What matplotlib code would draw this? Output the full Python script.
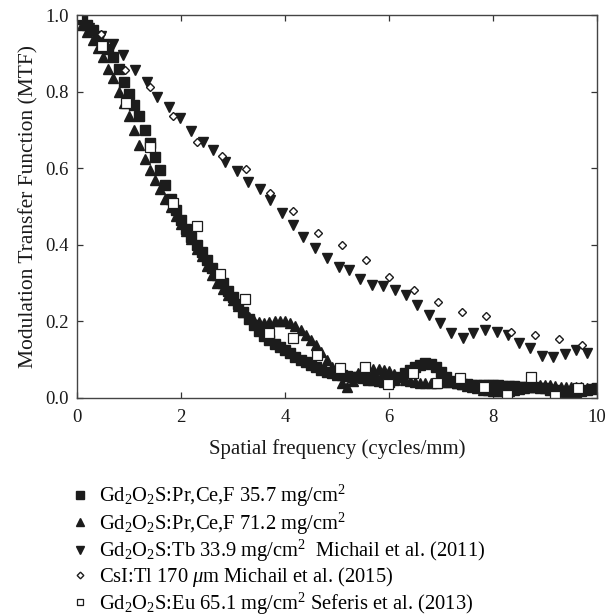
import matplotlib
matplotlib.use("Agg")
import matplotlib.pyplot as plt

# Spatial frequency grid of the two Pr,Ce,F screens (cycles/mm)
freq_prcef = [0.0, 0.1, 0.2, 0.3, 0.4, 0.5, 0.6, 0.7, 0.8, 0.9,
              1.0, 1.1, 1.2, 1.3, 1.4, 1.5, 1.6, 1.7, 1.8, 1.9,
              2.0, 2.1, 2.2, 2.3, 2.4, 2.5, 2.6, 2.7, 2.8, 2.9,
              3.0, 3.1, 3.2, 3.3, 3.4, 3.5, 3.6, 3.7, 3.8, 3.9,
              4.0, 4.1, 4.2, 4.3, 4.4, 4.5, 4.6, 4.7, 4.8, 4.9,
              5.0, 5.1, 5.2, 5.3, 5.4, 5.5, 5.6, 5.7, 5.8, 5.9,
              6.0, 6.1, 6.2, 6.3, 6.4, 6.5, 6.6, 6.7, 6.8, 6.9,
              7.0, 7.1, 7.2, 7.3, 7.4, 7.5, 7.6, 7.7, 7.8, 7.9,
              8.0, 8.1, 8.2, 8.3, 8.4, 8.5, 8.6, 8.7, 8.8, 8.9,
              9.0, 9.1, 9.2, 9.3, 9.4, 9.5, 9.6, 9.7, 9.8, 9.9, 10.0]

mtf_prcef_357 = [1.0, 0.99, 0.975, 0.96, 0.94, 0.925, 0.91, 0.89, 0.86, 0.825,
                 0.795, 0.765, 0.735, 0.70, 0.665, 0.63, 0.595, 0.555, 0.52, 0.49,
                 0.465, 0.44, 0.42, 0.40, 0.38, 0.36, 0.34, 0.32, 0.30, 0.28,
                 0.265, 0.245, 0.225, 0.205, 0.19, 0.175, 0.162, 0.152, 0.142, 0.132,
                 0.125, 0.117, 0.108, 0.10, 0.093, 0.087, 0.08, 0.074, 0.069, 0.066,
                 0.063, 0.06, 0.058, 0.056, 0.054, 0.051, 0.048, 0.046, 0.044, 0.042,
                 0.042, 0.047, 0.055, 0.065, 0.073, 0.08, 0.087, 0.092, 0.09, 0.08,
                 0.068, 0.055, 0.045, 0.04, 0.037, 0.036, 0.035, 0.035, 0.034, 0.034,
                 0.033, 0.033, 0.032, 0.032, 0.031, 0.03, 0.03, 0.029, 0.028, 0.027,
                 0.025, 0.022, 0.02, 0.018, 0.016, 0.015, 0.016, 0.018, 0.02, 0.023, 0.026]

mtf_prcef_712 = [1.0, 0.975, 0.955, 0.935, 0.915, 0.89, 0.86, 0.835, 0.80, 0.77,
                 0.735, 0.70, 0.66, 0.625, 0.595, 0.57, 0.545, 0.52, 0.50, 0.475,
                 0.455, 0.435, 0.415, 0.39, 0.37, 0.345, 0.32, 0.30, 0.285, 0.27,
                 0.255, 0.24, 0.225, 0.212, 0.202, 0.198, 0.197, 0.198, 0.20, 0.202,
                 0.20, 0.195, 0.187, 0.178, 0.165, 0.152, 0.138, 0.12, 0.10, 0.08,
                 0.06, 0.04, 0.03, 0.045, 0.065, 0.073, 0.075, 0.076, 0.075, 0.074,
                 0.07, 0.063, 0.055, 0.048, 0.045, 0.042, 0.04, 0.04, 0.04, 0.04,
                 0.041, 0.042, 0.042, 0.04, 0.036, 0.032, 0.028, 0.025, 0.022, 0.02,
                 0.019, 0.018, 0.018, 0.019, 0.021, 0.024, 0.027, 0.03, 0.032, 0.034,
                 0.035, 0.034, 0.032, 0.03, 0.03, 0.03, 0.03, 0.029, 0.027, 0.025, 0.025]

# Gd2O2S:Tb, Michail et al. (2011)
freq_tb = [0.0, 0.24, 0.47, 0.7, 0.89, 1.12, 1.34, 1.53, 1.76, 1.98,
           2.19, 2.42, 2.62, 2.85, 3.07, 3.28, 3.51, 3.71, 3.94, 4.15,
           4.35, 4.58, 4.8, 5.03, 5.24, 5.45, 5.67, 5.89, 6.12, 6.33,
           6.54, 6.76, 6.98, 7.2, 7.42, 7.62, 7.85, 8.07, 8.29, 8.5,
           8.71, 8.94, 9.16, 9.38, 9.6, 9.81]
mtf_tb = [1.0, 0.965, 0.945, 0.925, 0.896, 0.856, 0.826, 0.787, 0.759, 0.73,
          0.698, 0.669, 0.648, 0.617, 0.593, 0.565, 0.545, 0.517, 0.482, 0.452,
          0.421, 0.391, 0.365, 0.343, 0.334, 0.31, 0.295, 0.292, 0.282, 0.269,
          0.243, 0.217, 0.197, 0.169, 0.156, 0.169, 0.178, 0.173, 0.164, 0.143,
          0.13, 0.11, 0.108, 0.115, 0.125, 0.118]

# CsI:Tl, Michail et al. (2015)
freq_csi = [0.0, 0.46, 0.92, 1.4, 1.85, 2.31, 2.78, 3.25, 3.71, 4.16,
            4.63, 5.09, 5.56, 6.0, 6.49, 6.95, 7.41, 7.87, 8.34, 8.81,
            9.26, 9.72]
mtf_csi = [1.0, 0.95, 0.856, 0.811, 0.736, 0.669, 0.632, 0.598, 0.536, 0.489,
           0.43, 0.40, 0.36, 0.317, 0.282, 0.251, 0.225, 0.214, 0.173, 0.164,
           0.153, 0.138]

# Gd2O2S:Eu, Seferis et al. (2013)
freq_eu = [0.0, 0.49, 0.95, 1.4, 1.85, 2.31, 2.75, 3.23, 3.69, 4.15,
           4.61, 5.06, 5.54, 5.99, 6.46, 6.92, 7.37, 7.83, 8.27, 8.74,
           9.19, 9.64]
mtf_eu = [1.0, 0.92, 0.77, 0.656, 0.508, 0.449, 0.324, 0.258, 0.17, 0.156,
          0.112, 0.078, 0.082, 0.036, 0.064, 0.04, 0.053, 0.03, 0.008, 0.054,
          0.005, 0.027]

labels = [r"Gd$_2$O$_2$S:Pr,Ce,F 35.7 mg/cm$^2$",
          r"Gd$_2$O$_2$S:Pr,Ce,F 71.2 mg/cm$^2$",
          r"Gd$_2$O$_2$S:Tb 33.9 mg/cm$^2$  Michail et al. (2011)",
          r"CsI:Tl 170 $\mu$m Michail et al. (2015)",
          r"Gd$_2$O$_2$S:Eu 65.1 mg/cm$^2$ Seferis et al. (2013)"]

plt.rcParams["font.family"] = ["Liberation Serif", "DejaVu Serif"]
plt.rcParams["mathtext.fontset"] = "custom"
plt.rcParams["mathtext.rm"] = "Liberation Serif"
plt.rcParams["mathtext.it"] = "Liberation Serif:italic"
plt.rcParams["font.size"] = 14

ink = "#1c1c1c"
text_col = "#1a1a1a"

fig = plt.figure(figsize=(6.09, 6.16), dpi=100)
ax = fig.add_axes([77 / 609, 1 - 398 / 616, 520 / 609, 383 / 616])

h1, = ax.plot(freq_prcef, mtf_prcef_357, "s", ms=7, color=ink, mec=ink, ls="none")
h2, = ax.plot(freq_prcef, mtf_prcef_712, "^", ms=7.5, color=ink, mec=ink, ls="none")
h3, = ax.plot(freq_tb, mtf_tb, "v", ms=7.5, color=ink, mec=ink, ls="none")
h4, = ax.plot(freq_csi, mtf_csi, "D", ms=4.5, mfc="white", mec=ink, mew=1.0, ls="none")
h5, = ax.plot(freq_eu, mtf_eu, "s", ms=6.5, mfc="white", mec=ink, mew=0.9, ls="none")

ax.set_xlim(0, 10)
ax.set_ylim(0, 1.0)
ax.set_xticks([0, 2, 4, 6, 8, 10])
ax.set_yticks([0.0, 0.2, 0.4, 0.6, 0.8, 1.0])
ax.set_yticklabels(["0.0", "0.2", "0.4", "0.6", "0.8", "1.0"])
ax.tick_params(direction="in", length=4.5, width=0.9, top=True, right=True,
               colors="#333333", labelcolor=text_col, labelsize=13.5)
ax.tick_params(axis="x", pad=8)
ax.tick_params(axis="y", pad=6)
for sp in ax.spines.values():
    sp.set_color("#444444")
    sp.set_linewidth(1.0)

ax.set_xlabel("Spatial frequency (cycles/mm)", fontsize=15, labelpad=9, color=text_col)
ax.set_ylabel("Modulation Transfer Function (MTF)", fontsize=15.5, labelpad=5, color=text_col)

fig.legend([h1, h2, h3, h4, h5], labels, loc="upper left",
           bbox_to_anchor=(74 / 609, 1 - 483 / 616), frameon=False,
           markerscale=0.75, handlelength=0.6, handletextpad=0.6,
           borderpad=0, borderaxespad=0, labelspacing=0.06, fontsize=14.8)

fig.savefig("out.png", dpi=100)
